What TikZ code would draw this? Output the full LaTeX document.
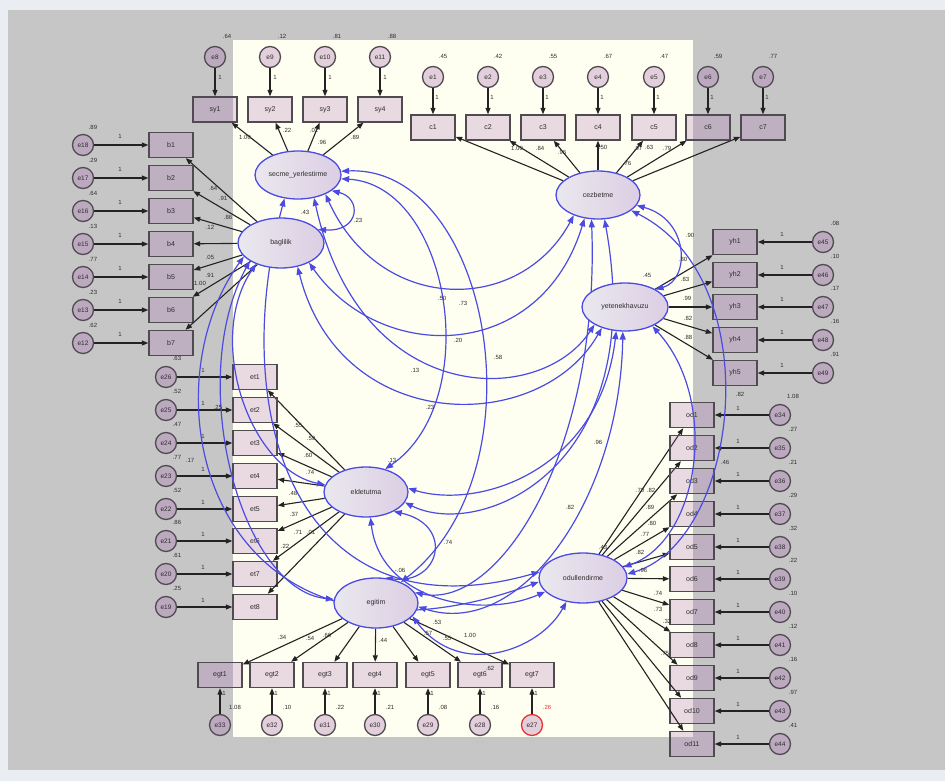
\documentclass[tikz,border=0pt]{standalone}
\usepackage{fontspec}
\setmainfont{Liberation Sans}
\usetikzlibrary{shapes.geometric,arrows.meta}
\pgfdeclarelayer{bgl}
\pgfdeclarelayer{arcl}
\pgfsetlayers{bgl,arcl,main}
\definecolor{bgout}{RGB}{234,237,242}
\definecolor{bggray}{RGB}{198,198,198}
\definecolor{cream}{RGB}{255,255,241}
\definecolor{boxfill}{RGB}{170,110,180}
\definecolor{boxline}{RGB}{80,75,80}
\definecolor{latL}{RGB}{234,232,238}
\definecolor{latR}{RGB}{220,206,228}
\definecolor{covblue}{RGB}{75,75,228}
\definecolor{ldcol}{RGB}{35,35,35}
\definecolor{txt}{RGB}{45,45,45}
\definecolor{redc}{RGB}{230,50,50}
\begin{document}
\begin{tikzpicture}[x=1pt,y=-1pt,
 obs/.style={draw=boxline, line width=1.4pt, fill=boxfill, fill opacity=0.26, text opacity=1, minimum width=44pt, minimum height=25pt, inner sep=0pt, font=\fontsize{7}{8}\selectfont, text=txt},
 err/.style={circle, draw=boxline, line width=1.3pt, fill=boxfill, fill opacity=0.33, text opacity=1, minimum size=21pt, inner sep=0pt, font=\fontsize{6.5}{7}\selectfont, text=txt},
 lat/.style={ellipse, draw=covblue, line width=1.3pt, left color=latL, right color=latR, minimum width=86pt, minimum height=48pt, inner sep=0pt, font=\fontsize{7}{8}\selectfont, text=txt},
 ld/.style={draw=ldcol, line width=1.1pt, -{Triangle[length=6.5pt,width=5pt]}},
 cov/.style={draw=covblue, line width=1.2pt, {Triangle[length=8pt,width=6pt]}-{Triangle[length=8pt,width=6pt]}},
 lab/.style={font=\fontsize{6}{7}\selectfont, text=txt, inner sep=0pt}]
\useasboundingbox (0,0) rectangle (945,781);

% latent variables
\node[lat] (S) at (298,175) {secme\_yerlestirme};
\node[lat, minimum height=50pt] (B) at (281,243) {baglilik};
\node[lat, minimum width=84pt] (O) at (598,195) {cezbetme};
\node[lat] (Y) at (625,307) {yetenekhavuzu};
\node[lat, minimum width=84pt, minimum height=50pt] (E) at (366,492) {eldetutma};
\node[lat, minimum width=84pt, minimum height=50pt] (G) at (376,603) {egitim};
\node[lat, minimum width=88pt, minimum height=50pt] (D) at (583,578) {odullendirme};

\begin{pgfonlayer}{bgl}
\fill[bgout] (0,0) rectangle (945,781);
\fill[bggray] (8,10) rectangle (945,770);
\fill[cream] (233,40) rectangle (693,737);

% secme_yerlestirme indicators
\foreach \i/\x/\ev/\v in {1/215/8/.64, 2/270/9/.12, 3/325/10/.81, 4/380/11/.88}{
  \node[obs] (sy\i) at (\x,109.5) {sy\i};
  \node[err] (e\ev) at (\x,57) {e\ev};
  \draw[ld] (e\ev) -- (sy\i);
  \draw[ld] (S) -- (sy\i);
  \node[lab] (vs\i) at (\x+12,36) {\v};
  \node[lab] (os\i) at (\x+5,77) {1};
}
% cezbetme indicators
\foreach \i/\x/\ev/\v in {1/433/1/.45, 2/488/2/.42, 3/543/3/.55, 4/598/4/.67, 5/654/5/.47, 6/708/6/.59, 7/763/7/.77}{
  \node[obs] (c\i) at (\x,127.5) {c\i};
  \node[err] (e\ev) at (\x,77) {e\ev};
  \draw[ld] (e\ev) -- (c\i);
  \draw[ld] (O) -- (c\i);
  \node[lab] (vc\i) at (\x+10,56) {\v};
  \node[lab] (oc\i) at (\x+4,97) {1};
}
% baglilik indicators
\foreach \i/\y/\ev/\v in {1/145/18/.89, 2/178/17/.29, 3/211/16/.64, 4/244/15/.13, 5/277/14/.77, 6/310/13/.23, 7/343/12/.62}{
  \node[obs] (b\i) at (171,\y) {b\i};
  \node[err] (e\ev) at (83,\y) {e\ev};
  \draw[ld] (e\ev) -- (b\i);
  \draw[ld] (B) -- (b\i);
  \node[lab] (vb\i) at (93,\y-18) {\v};
  \node[lab] (ob\i) at (120,\y-9) {1};
}
% eldetutma indicators
\foreach \i/\y/\ev/\v in {1/377/26/.63, 2/410/25/.52, 3/443/24/.47, 4/476/23/.77, 5/509/22/.52, 6/541/21/.86, 7/574/20/.61, 8/607/19/.25}{
  \node[obs] (et\i) at (255,\y) {et\i};
  \node[err] (e\ev) at (166,\y) {e\ev};
  \draw[ld] (e\ev) -- (et\i);
  \draw[ld] (E) -- (et\i);
  \node[lab] (ve\i) at (177,\y-19) {\v};
  \node[lab] (oe\i) at (203,\y-7) {1};
}
% yetenekhavuzu indicators
\foreach \i/\y/\ev/\v in {1/242/45/.08, 2/275/46/.10, 3/307/47/.17, 4/340/48/.16, 5/373/49/.91}{
  \node[obs] (yh\i) at (735,\y) {yh\i};
  \node[err] (e\ev) at (823,\y) {e\ev};
  \draw[ld] (e\ev) -- (yh\i);
  \draw[ld] (Y) -- (yh\i);
  \node[lab] (vy\i) at (835,\y-19) {\v};
  \node[lab] (oy\i) at (782,\y-8) {1};
}
% odullendirme indicators
\foreach \i/\y/\ev/\v in {1/415/34/1.08, 2/448/35/.27, 3/481/36/.21, 4/514/37/.29, 5/547/38/.32, 6/579/39/.22, 7/612/40/.10, 8/645/41/.12, 9/678/42/.16, 10/711/43/.97, 11/744/44/.41}{
  \node[obs] (od\i) at (692,\y) {od\i};
  \node[err] (e\ev) at (780,\y) {e\ev};
  \draw[ld] (e\ev) -- (od\i);
  \draw[ld] (D) -- (od\i);
  \node[lab] (vo\i) at (793,\y-19) {\v};
  \node[lab] (oo\i) at (738,\y-7) {1};
}
% egitim indicators
\foreach \i/\x/\ev/\v/\dc/\tc in {1/220/33/1.08/boxline/txt, 2/272/32/.10/boxline/txt, 3/325/31/.22/boxline/txt, 4/375/30/.21/boxline/txt, 5/428/29/.08/boxline/txt, 6/480/28/.16/boxline/txt, 7/532/27/.26/redc/redc}{
  \node[obs] (egt\i) at (\x,675) {egt\i};
  \node[err, draw=\dc] (e\ev) at (\x,725) {e\ev};
  \draw[ld] (e\ev) -- (egt\i);
  \draw[ld] (G) -- (egt\i);
  \node[lab, text=\tc] (vg\i) at (\x+15,707) {\v};
  \node[lab] (og\i) at (\x+4,693) {1};
}
\end{pgfonlayer}

% covariances
\begin{pgfonlayer}{arcl}
\draw[cov] (S.-25) .. controls (362,198) and (360,232) .. (B.20);
\draw[cov] (S.-35) .. controls (380,315) and (520,315) .. (O.-140);
\draw[cov] (B.-35) .. controls (380,364) and (540,364) .. (O.-120);
\draw[cov] (S.-55) .. controls (360,408) and (540,408) .. (Y.-150);
\draw[cov] (B.-55) .. controls (340,436) and (540,436) .. (Y.-138);
\draw[cov] (S.-5) .. controls (450,185) and (485,400) .. (E.50);
\draw[cov] (S.5) .. controls (490,165) and (545,470) .. (G.40);
\draw[cov] (S.-120) .. controls (225,420) and (300,640) .. (D.172);
\draw[cov] (B.-140) .. controls (205,340) and (250,470) .. (E.170);
\draw[cov] (B.-150) .. controls (185,380) and (240,590) .. (G.175);
\draw[cov] (B.-160) .. controls (140,400) and (215,700) .. (D.-175);
\draw[cov] (O.-15) .. controls (690,220) and (690,280) .. (Y.30);
\draw[cov] (O.-25) .. controls (770,280) and (740,540) .. (D.5);
\draw[cov] (O.-75) .. controls (650,470) and (480,540) .. (E.-15);
\draw[cov] (Y.-110) .. controls (600,470) and (480,510) .. (E.5);
\draw[cov] (O.-105) .. controls (600,450) and (500,610) .. (G.15);
\draw[cov] (Y.-95) .. controls (620,500) and (520,640) .. (G.-5);
\draw[cov] (Y.-35) .. controls (720,400) and (700,540) .. (D.15);
\draw[cov] (E.-35) .. controls (455,525) and (440,585) .. (G.70);
\draw[cov] (E.-80) .. controls (380,600) and (480,620) .. (D.-160);
\draw[cov] (G.-20) .. controls (460,680) and (540,650) .. (D.-125);
\end{pgfonlayer}

% estimates
\foreach \x/\y/\t [count=\k] in {
245/137/1.00, 287/130/.22, 314/130/.02, 322/142/.96, 355/137/.89,
517/148/1.00, 540/148/.84, 562/152/.96, 603/147/.50, 627/163/.76, 638/148/.97, 649/147/.63, 667/148/.79,
213/188/.64, 223/198/.91, 228/217/.86, 210/227/.12, 210/257/.05, 210/275/.91, 200/283/1.00,
218/407/.25, 298/425/.55, 311/438/.59, 308/455/.60, 310/472/.74, 293/493/.48, 294/514/.37, 298/532/.71, 311/532/.01, 285/546/.22,
690/235/.90, 683/259/.80, 685/279/.83, 687/298/.99, 688/318/.82, 688/337/.88, 740/394/.82,
640/490/.70, 651/490/.82, 650/507/.89, 652/523/.80, 645/534/.77, 640/552/.82, 643/570/.96, 658/593/.74, 658/609/.73, 667/621/.32, 665/653/.75, 725/462/.46,
282/637/.34, 310/638/.54, 327/635/.66, 383/640/.44, 428/633/.57, 447/638/.55, 437/622/.53, 470/635/1.00, 490/668/.62,
358/220/.23, 305/212/.43, 442/298/.50, 463/303/.73, 458/340/.20, 498/357/.58, 415/370/.13, 430/407/.23, 598/442/.96, 570/507/.82, 448/542/.74, 392/460/.13, 400/570/-.06, 190/460/.17, 647/275/.45, 603/547/.43}
  \node[lab] (n\k) at (\x,\y) {\t};
\end{tikzpicture}
\end{document}
